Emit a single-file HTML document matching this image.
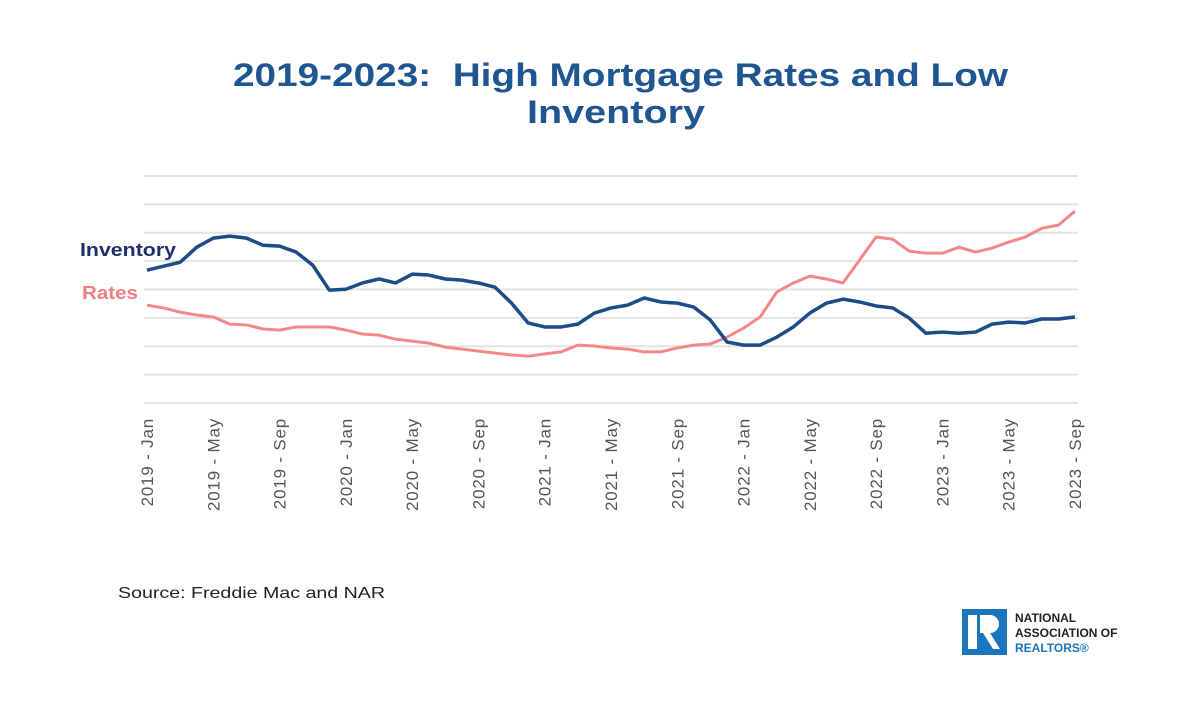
<!DOCTYPE html>
<html><head><meta charset="utf-8"><style>
body{margin:0;background:#fff;width:1200px;height:700px;overflow:hidden;font-family:"Liberation Sans",sans-serif}
</style></head><body>
<svg width="1200" height="700" viewBox="0 0 1200 700">
<text x="233" y="86" textLength="775" lengthAdjust="spacingAndGlyphs" font-size="32" font-weight="bold" fill="#1f5591" xml:space="preserve">2019-2023:  High Mortgage Rates and Low</text>
<text x="527" y="123" textLength="178" lengthAdjust="spacingAndGlyphs" font-size="32" font-weight="bold" fill="#1f5591">Inventory</text>
<g id="grid"></g><g id="xt"></g><g id="lines"></g>
<text x="80" y="256" textLength="96" lengthAdjust="spacingAndGlyphs" font-size="18" font-weight="bold" fill="#1e2f6b">Inventory</text>
<text x="82" y="299" textLength="56" lengthAdjust="spacingAndGlyphs" font-size="18" font-weight="bold" fill="#f08080">Rates</text>
<text x="118" y="598" textLength="267" lengthAdjust="spacingAndGlyphs" font-size="16" fill="#222">Source: Freddie Mac and NAR</text>
<g>
<rect x="962" y="609" width="45" height="46" fill="#1b75bc"/>
<rect x="968" y="615" width="9" height="34" fill="#fff"/>
<path d="M980 615 h10 a9 9 0 0 1 0 18 l10 16 h-7 l-10 -16 h-3 z" fill="#fff"/>
<text x="1015" y="622" font-size="12" font-weight="bold" fill="#222">NATIONAL</text>
<text x="1015" y="637" font-size="12" font-weight="bold" fill="#222">ASSOCIATION OF</text>
<text x="1015" y="652" font-size="12" font-weight="bold" fill="#1b75bc">REALTORS®</text>
</g>
</svg>
<script>
const inventory=[46.8,48.2,49.6,54.9,58.1,58.8,58.1,55.6,55.3,53.2,48.6,39.8,40.1,42.3,43.7,42.3,45.4,45.1,43.7,43.3,42.3,40.8,35.2,28.2,26.8,26.8,27.8,31.7,33.5,34.5,37.0,35.6,35.2,33.8,29.2,21.5,20.4,20.4,23.2,26.8,31.7,35.2,36.6,35.6,34.2,33.5,29.9,24.6,25.0,24.6,25.0,27.8,28.5,28.2,29.6,29.6,30.3];
const rates=[34.5,33.5,32.0,31.0,30.3,27.8,27.5,26.1,25.7,26.8,26.8,26.8,25.7,24.3,23.9,22.5,21.8,21.1,19.7,19.0,18.3,17.6,16.9,16.5,17.3,18.0,20.4,20.1,19.4,19.0,18.0,18.0,19.4,20.4,20.8,23.2,26.4,30.3,39.1,42.3,44.7,43.7,42.3,50.4,58.5,57.7,53.5,52.8,52.8,54.9,53.2,54.6,56.7,58.5,61.6,62.7,67.6];
const gridValues=[0,10,20,30,40,50,60,70,80];
const tickLabels=["2019 - Jan","2019 - May","2019 - Sep","2020 - Jan","2020 - May","2020 - Sep","2021 - Jan","2021 - May","2021 - Sep","2022 - Jan","2022 - May","2022 - Sep","2023 - Jan","2023 - May","2023 - Sep"];
const NS="http://www.w3.org/2000/svg";
const x0=147,x1=1075,yb=403,yt=176;
const xs=i=>x0+(x1-x0)*i/(inventory.length-1);
const ys=v=>yb-(yb-yt)*v/80;
const g=document.getElementById('grid');
gridValues.forEach(v=>{const l=document.createElementNS(NS,'line');
l.setAttribute('x1',144);l.setAttribute('x2',1078);l.setAttribute('y1',ys(v));l.setAttribute('y2',ys(v));
l.setAttribute('stroke','#e3e3e3');l.setAttribute('stroke-width','2');


g.appendChild(l);});
const xt=document.getElementById('xt');
tickLabels.forEach((t,k)=>{const x=xs(k*4);const e=document.createElementNS(NS,'text');
e.setAttribute('transform',`translate(${x+6},418) rotate(-90)`);e.setAttribute('text-anchor','end');
e.setAttribute('font-size','17');e.setAttribute('letter-spacing','0.8');e.setAttribute('fill','#555');e.textContent=t;


xt.appendChild(e);});
const L=document.getElementById('lines');
function draw(arr,color,w,name){const p=document.createElementNS(NS,'polyline');
p.setAttribute('points',arr.map((v,i)=>xs(i)+','+ys(v)).join(' '));
p.setAttribute('fill','none');p.setAttribute('stroke',color);p.setAttribute('stroke-width',w);p.setAttribute('stroke-linejoin','round');


L.appendChild(p);}
draw(rates,'#f48888',3,'rates-line');
draw(inventory,'#1d4c87',3.5,'inventory-line');
</script>
</body></html>
